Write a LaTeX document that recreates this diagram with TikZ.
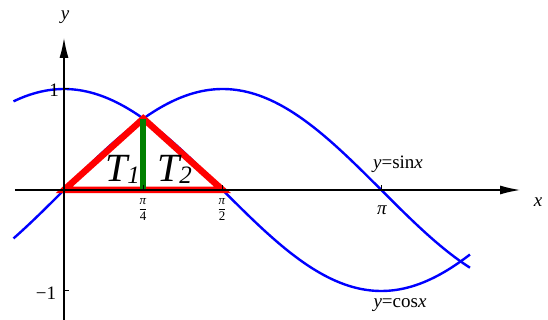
\documentclass[tikz,border=0pt]{standalone}
\usepackage{fontspec}
\setmainfont{Liberation Serif}
\usetikzlibrary{arrows.meta}
\begin{document}
\begin{tikzpicture}[x=101pt,y=101pt,
  curve/.style={blue,line width=2.4pt},
  axisline/.style={black,line width=1.2pt,-{Latex[length=20pt,width=9pt]}},
  tick/.style={black,line width=1pt},
  tri/.style={red,line width=6.5pt},
  vert/.style={green!50!black,line width=6pt},
  lbl/.style={font=\fontsize{19}{19}\selectfont,inner sep=0pt},
  frac/.style={font=\fontsize{13}{13}\selectfont,inner sep=0pt},
  big/.style={font=\fontsize{40}{40}\selectfont\itshape,inner sep=0pt,anchor=base west}]
\useasboundingbox (-64pt,-130pt) rectangle (484pt,190pt);
\coordinate (O) at (0,0);
\coordinate (A) at ({pi/4},{sqrt(2)/2});
\coordinate (B) at ({pi/2},0);
\coordinate (F) at ({pi/4},0);
% curves
\draw[curve] plot[domain=-0.5:4.02,samples=120,smooth] (\x,{sin(\x r)});
\draw[curve] plot[domain=-0.5:4.02,samples=120,smooth] (\x,{cos(\x r)});
% red triangle and green segment
\draw[tri] (O) -- (A) -- (B) -- cycle;
\draw[vert] (F) -- (A);
% axes
\coordinate (xs) at (-49pt,0);
\coordinate (xe) at (456pt,0);
\coordinate (ys) at (0,-130pt);
\coordinate (ye) at (0,152pt);
\draw[axisline] (xs) -- (xe);
\draw[axisline] (ys) -- (ye);
% ticks
\draw[tick] (F) -- ++(0,5pt);
\draw[tick] (B) -- ++(0,5pt);
\draw[tick] ({pi},0) -- ++(0,5pt);
\draw[tick] (0,1) -- ++(5pt,0);
\draw[tick] (0,-1) -- ++(5pt,0);
% labels
\node[lbl] (ylab) at (1pt,173pt) {\itshape y};
\node[lbl] (xlab) at (474pt,-12pt) {\itshape x};
\node[lbl] (one) at (-10pt,100pt) {1};
\node[lbl] (mone) at (-18pt,-103pt) {−1};
\node[lbl] (pilab) at (318pt,-20pt) {\itshape π};
\node[frac] (q4) at (79pt,-19.5pt) {$\displaystyle\frac{\mbox{\itshape π}}{\mbox{4}}$};
\node[frac] (q2) at (158pt,-19.5pt) {$\displaystyle\frac{\mbox{\itshape π}}{\mbox{2}}$};
\node[lbl,anchor=base] (sinlab) at (334pt,21pt) {{\itshape y}=sin{\itshape x}};
\node[lbl,anchor=base] (coslab) at (336pt,-118pt) {{\itshape y}=cos{\itshape x}};
\node[big] (t1) at (41pt,8pt) {T\raisebox{-2pt}{\fontsize{25}{25}\selectfont 1}};
\node[big] (t2) at (93pt,8pt) {T\raisebox{-2pt}{\fontsize{25}{25}\selectfont 2}};
\end{tikzpicture}
\end{document}
